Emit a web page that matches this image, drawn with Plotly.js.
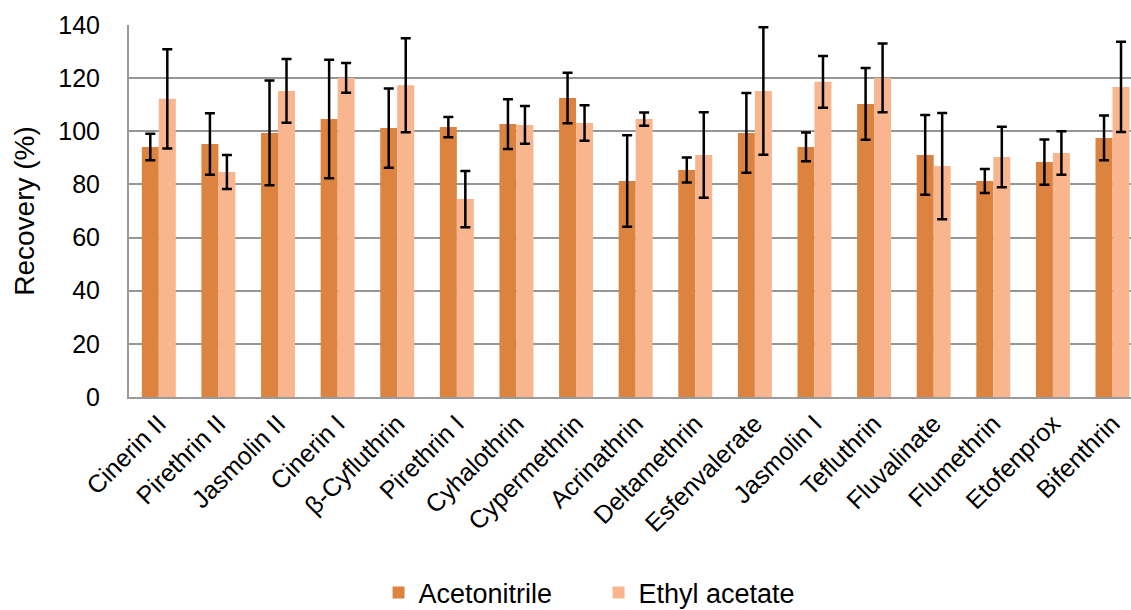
<!DOCTYPE html>
<html>
<head>
<meta charset="utf-8">
<script src="https://cdn.plot.ly/plotly-3.0.1.min.js"></script>
<style>html,body{margin:0;padding:0;background:#fff;}#chart{width:1131px;height:610px;}</style>
</head>
<body>
<div id="chart"></div>
<script>
const categories = ["Cinerin II","Pirethrin II","Jasmolin II","Cinerin I","β-Cyfluthrin","Pirethrin I","Cyhalothrin","Cypermethrin","Acrinathrin","Deltamethrin","Esfenvalerate","Jasmolin I","Tefluthrin","Fluvalinate","Flumethrin","Etofenprox","Bifenthrin"];
const acetonitrile = [94.1, 95.2, 99.4, 104.6, 101.2, 101.6, 102.7, 112.5, 81.3, 85.4, 99.4, 94.1, 110.3, 91.1, 81.3, 88.4, 97.5];
const acetonitrileErr = [5.0, 11.6, 19.7, 22.3, 14.9, 3.8, 9.4, 9.5, 17.2, 4.7, 15.0, 5.4, 13.5, 15.0, 4.5, 8.5, 8.4];
const ethylAcetate = [112.2, 84.7, 115.2, 120.1, 117.3, 74.5, 102.4, 103.1, 104.6, 91.1, 115.2, 118.6, 120.1, 86.9, 90.3, 91.8, 116.7];
const ethylAcetateErr = [18.7, 6.4, 12.0, 5.6, 17.7, 10.6, 7.1, 6.7, 2.5, 16.1, 24.0, 9.7, 12.9, 20.0, 11.4, 8.2, 17.0];
const yTicks = [0, 20, 40, 60, 80, 100, 120, 140];

const errStyle = {type: 'data', visible: true, color: '#000', thickness: 2.5, width: 5};
const traces = [
  {type: 'bar', name: 'Acetonitrile', x: categories, y: acetonitrile,
   marker: {color: '#DC843F'}, error_y: Object.assign({array: acetonitrileErr}, errStyle)},
  {type: 'bar', name: 'Ethyl acetate', x: categories, y: ethylAcetate,
   marker: {color: '#F8B58E'}, error_y: Object.assign({array: ethylAcetateErr}, errStyle)}
];
const fam = 'Liberation Sans, Arial, sans-serif';
const layout = {
  width: 1131, height: 610,
  margin: {l: 129, r: 0, t: 25, b: 213, autoexpand: false},
  paper_bgcolor: '#fff', plot_bgcolor: '#fff',
  barmode: 'group', bargap: 0.43, bargroupgap: 0,
  font: {family: fam, color: '#000', size: 25},
  xaxis: {
    type: 'category', range: [-0.5, 16.31], tickangle: -45,
    tickfont: {size: 25, family: fam, color: '#000'},
    showline: true, linecolor: '#9a9a9a', linewidth: 2,
    showgrid: false, ticks: '', automargin: false, fixedrange: true
  },
  yaxis: {
    range: [0, 140], tickvals: yTicks, ticktext: yTicks.map(String),
    tickfont: {size: 25, family: fam, color: '#000'},
    showgrid: true, gridcolor: '#969696', gridwidth: 2,
    showline: true, linecolor: '#9a9a9a', linewidth: 2,
    zeroline: false, ticks: '', ticklabelstandoff: 22,
    title: {text: 'Recovery (%)', font: {size: 28, family: fam, color: '#000'}, standoff: 15},
    automargin: false, fixedrange: true
  },
  showlegend: true,
  legend: {
    orientation: 'h', xref: 'container', yref: 'container',
    x: 0.3347, xanchor: 'left', y: 0.0279, yanchor: 'middle',
    font: {size: 27, family: fam, color: '#000'},
    entrywidth: 175, entrywidthmode: 'pixels', itemwidth: 30,
    bgcolor: 'rgba(0,0,0,0)'
  }
};
Plotly.newPlot('chart', traces, layout, {displayModeBar: false, staticPlot: true});
</script>
</body>
</html>
